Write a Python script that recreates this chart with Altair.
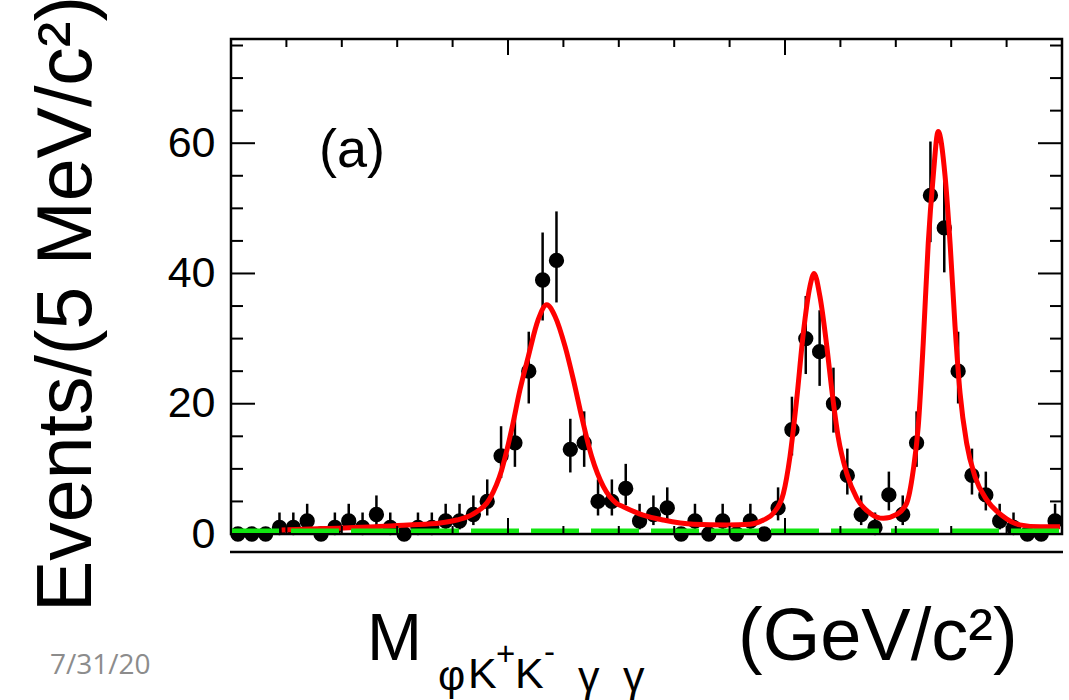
import altair as alt
import pandas as pd

# ---------------- data ----------------
# histogram: 5 MeV bins between 3.30 and 3.60 GeV/c^2 (bin centres)
bin_centers = [3.3025, 3.3075, 3.3125, 3.3175, 3.3225, 3.3275, 3.3325, 3.3375, 3.3425, 3.3475,
               3.3525, 3.3575, 3.3625, 3.3675, 3.3725, 3.3775, 3.3825, 3.3875, 3.3925, 3.3975,
               3.4025, 3.4075, 3.4125, 3.4175, 3.4225, 3.4275, 3.4325, 3.4375, 3.4425, 3.4475,
               3.4525, 3.4575, 3.4625, 3.4675, 3.4725, 3.4775, 3.4825, 3.4875, 3.4925, 3.4975,
               3.5025, 3.5075, 3.5125, 3.5175, 3.5225, 3.5275, 3.5325, 3.5375, 3.5425, 3.5475,
               3.5525, 3.5575, 3.5625, 3.5675, 3.5725, 3.5775, 3.5825, 3.5875, 3.5925, 3.5975]
counts = [0, 0, 0, 1, 1, 2, 0, 1, 2, 1,
          3, 1, 0, 1, 1, 2, 2, 3, 5, 12,
          14, 25, 39, 42, 13, 14, 5, 5, 7, 2,
          3, 4, 0, 2, 0, 2, 0, 2, 0, 4,
          16, 30, 28, 20, 9, 3, 1, 6, 3, 14,
          52, 47, 25, 9, 6, 2, 1, 0, 0, 2]
# error-bar ends (lower, upper) read for each count value
err_table = {0: (0, 0), 1: (0.17, 3.30), 2: (0.71, 4.64), 3: (1.37, 5.92), 4: (2.09, 7.16),
             5: (2.84, 8.38), 6: (3.62, 9.58), 7: (4.42, 10.77), 9: (6.06, 13.11),
             12: (8.59, 16.55), 13: (9.45, 17.69), 14: (10.31, 18.83), 16: (12.05, 21.08),
             20: (15.57, 25.54), 25: (20.04, 31.06), 28: (22.74, 34.35), 30: (24.56, 36.54),
             39: (32.78, 46.29), 42: (35.55, 49.53), 47: (40.17, 54.90), 52: (44.81, 60.26)}
err_low = [err_table[c][0] for c in counts]
err_high = [err_table[c][1] for c in counts]

# fit curve (red)
fit_mass = [3.3183, 3.3339, 3.3520, 3.3639, 3.3755, 3.3815, 3.3875, 3.3935, 3.3977, 3.4013,
            3.4043, 3.4073, 3.4109, 3.4140, 3.4170, 3.4206, 3.4236, 3.4266, 3.4302, 3.4344,
            3.4392, 3.4416, 3.4488, 3.4561, 3.4669, 3.4790, 3.4874, 3.4922, 3.4958, 3.4994,
            3.5018, 3.5042, 3.5066, 3.5090, 3.5105, 3.5126, 3.5151, 3.5169, 3.5192, 3.5223,
            3.5259, 3.5307, 3.5355, 3.5403, 3.5439, 3.5463, 3.5481, 3.5499, 3.5517, 3.5535,
            3.5553, 3.5578, 3.5596, 3.5614, 3.5632, 3.5656, 3.5686, 3.5729, 3.5788, 3.5848,
            3.5921, 3.5993]
fit_val = [0.6, 0.85, 1.1, 1.4, 1.7, 2.15, 3.1, 5.5, 9.8, 16.0,
           22.1, 27.2, 32.9, 35.2, 33.4, 28.8, 23.7, 18.0, 11.9, 7.3,
           4.7, 4.2, 2.9, 2.15, 1.5, 1.4, 1.5, 2.15, 3.2, 6.2,
           11.9, 20.6, 30.8, 38.0, 40.0, 36.5, 28.8, 22.1, 14.9, 9.3,
           5.5, 3.2, 2.4, 3.0, 4.7, 9.8, 16.5, 29.3, 44.6, 54.9,
           61.8, 54.9, 44.6, 31.8, 21.6, 13.9, 8.8, 5.2, 2.7, 1.4,
           1.1, 1.1]

# background (green dashed)
bkg_mass = [3.3, 3.6]
bkg_val = [0.5, 0.5]

# axis ticks
y_major = [0, 20, 40, 60]
y_minor = [5, 10, 15, 25, 30, 35, 45, 50, 55, 65, 70, 75]
x_major = [3.3, 3.4, 3.5, 3.6]
x_minor = [3.32, 3.34, 3.36, 3.38, 3.42, 3.44, 3.46, 3.48, 3.52, 3.54, 3.56, 3.58]

X_DOMAIN = [3.3, 3.6]
Y_DOMAIN = [0, 76]
W, H = 831, 495
FONT = "Liberation Sans"

xs = alt.Scale(domain=X_DOMAIN, nice=False, zero=False)
ys = alt.Scale(domain=Y_DOMAIN, nice=False, zero=False)

hist = pd.DataFrame({"m": bin_centers, "n": counts, "lo": err_low, "hi": err_high})
fit = pd.DataFrame({"m": fit_mass, "v": fit_val})
bkg = pd.DataFrame({"m": bkg_mass, "v": bkg_val})

base_y = alt.Y("n:Q", scale=ys,
               axis=alt.Axis(values=y_major, ticks=False, domain=False, grid=False,
                             labelFontSize=43, labelFont=FONT, labelColor="black",
                             labelPadding=16, labelFlush=False, labelOverlap=False,
                             title=None))

errbars = alt.Chart(hist).mark_rule(color="black", strokeWidth=2.5).encode(
    x=alt.X("m:Q", scale=xs, axis=None),
    y=alt.Y("lo:Q", scale=ys),
    y2="hi:Q",
)
points = alt.Chart(hist).mark_circle(color="black", size=235, opacity=1).encode(
    x=alt.X("m:Q", scale=xs, axis=None),
    y=base_y,
)
fit_line = alt.Chart(fit).mark_line(color="#ff0000", strokeWidth=5, interpolate="monotone").encode(
    x=alt.X("m:Q", scale=xs, axis=None),
    y=alt.Y("v:Q", scale=ys),
)
bkg_line = alt.Chart(bkg).mark_line(color="#11e611", strokeWidth=4.5, strokeDash=[48, 12]).encode(
    x=alt.X("m:Q", scale=xs, axis=None),
    y=alt.Y("v:Q", scale=ys),
)


def tick_layer(vals, axis, length, side):
    df = pd.DataFrame({"v": vals})
    ch = alt.Chart(df).mark_rule(color="black", strokeWidth=2)
    if axis == "y":
        if side == "left":
            return ch.encode(y=alt.Y("v:Q", scale=ys), x=alt.value(0), x2=alt.value(length))
        return ch.encode(y=alt.Y("v:Q", scale=ys), x=alt.value(W - length), x2=alt.value(W))
    if side == "bottom":
        return ch.encode(x=alt.X("v:Q", scale=xs, axis=None), y=alt.value(H - length), y2=alt.value(H))
    return ch.encode(x=alt.X("v:Q", scale=xs, axis=None), y=alt.value(0), y2=alt.value(length))


ticks = [
    tick_layer(y_major, "y", 24, "left"), tick_layer(y_minor, "y", 12, "left"),
    tick_layer(y_major, "y", 24, "right"), tick_layer(y_minor, "y", 12, "right"),
    tick_layer(x_major, "x", 16, "bottom"), tick_layer(x_minor, "x", 8, "bottom"),
    tick_layer(x_major, "x", 16, "top"), tick_layer(x_minor, "x", 8, "top"),
]


def label(text, x, y, size, angle=0, color="black", font=FONT, align="left", baseline="alphabetic"):
    return alt.Chart(pd.DataFrame({"t": [text]})).mark_text(
        font=font, fontSize=size, color=color, angle=angle, align=align, baseline=baseline
    ).encode(text="t:N", x=alt.value(x), y=alt.value(y))


texts = [
    label("(a)", 88, 128, 54),
    label("Events/(5 MeV/c²)", -140, 573, 77, angle=270),
    label("M", 136, 621, 66),
    label("φ", 207, 651, 42),
    label("K", 237, 649, 43),
    label("+", 265, 626, 33),
    label("K", 284, 649, 43),
    label("-", 313, 624, 33),
    label("γ", 347, 652, 43),
    label("γ", 392, 652, 43),
    label("(GeV/c²)", 507, 621, 74),
    label("7/31/20", -181, 635, 28, color="#8c8c8c", font="Open Sans"),
]

under_line = alt.Chart(pd.DataFrame({"t": [0]})).mark_rule(color="black", strokeWidth=2.5).encode(
    x=alt.value(-1), x2=alt.value(W + 1), y=alt.value(513)
)

chart = alt.layer(
    errbars, points, fit_line, bkg_line, *ticks, *texts, under_line
).resolve_scale(x="shared", y="shared").properties(
    width=W, height=H,
    autosize=alt.AutoSizeParams(type="none"),
    padding={"left": 231, "top": 39, "right": 7, "bottom": 166},
    background="white",
).configure_view(stroke="black", strokeWidth=2.5)

chart.save("out.html", embed_options={"renderer": "svg", "actions": False})
